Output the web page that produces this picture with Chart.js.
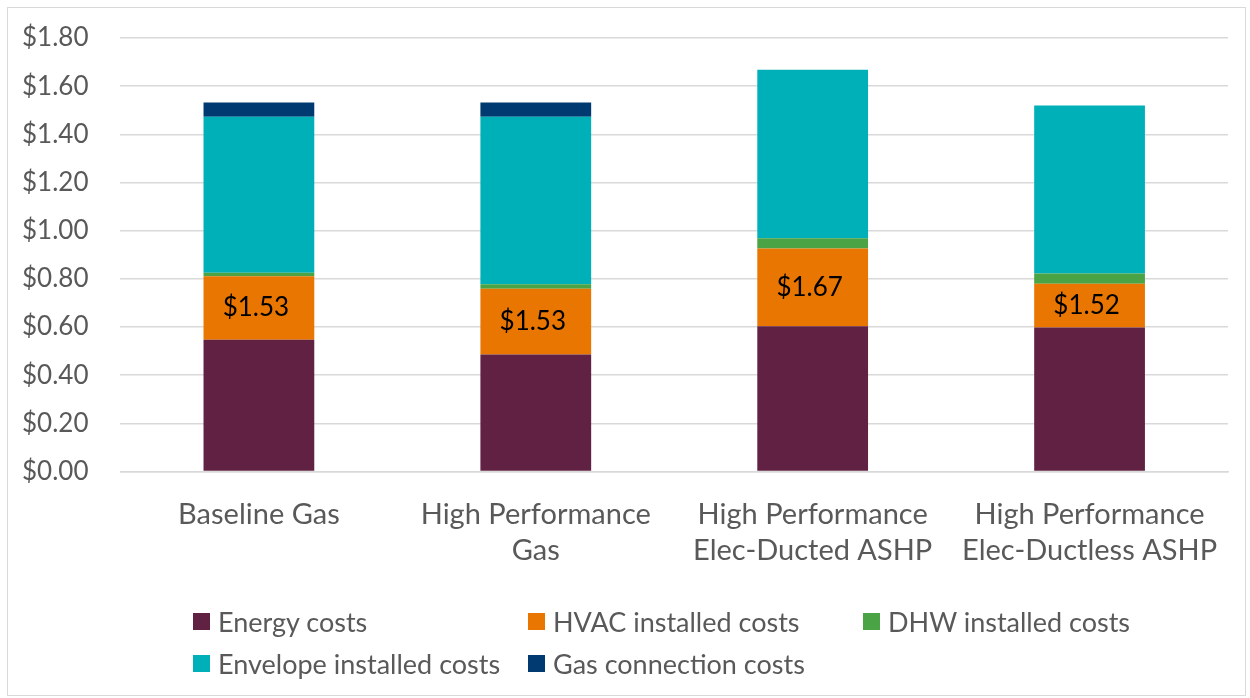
<!DOCTYPE html>
<html>
<head>
<meta charset="utf-8">
<script src="https://cdn.jsdelivr.net/npm/chart.js@4"></script>
<style>
  html, body { margin: 0; padding: 0; background: #fff; }
  #box {
    position: absolute; left: 7px; top: 7px; width: 1239px; height: 689px;
    border: 1px solid #d9d9d9; box-sizing: border-box;
  }
  #chart { position: absolute; left: 0; top: 0; }
  #legend {
    position: absolute; left: 185px; top: 598px;
    display: grid; grid-template-columns: 335px 335px 335px; row-gap: 12px;
    font-family: Lato, sans-serif; font-size: 27px; color: #595959;
  }
  #legend div { display: flex; align-items: center; height: 30px; }
  #legend span.sw { width: 17px; height: 17px; margin-right: 8px; display: inline-block; }
</style>
</head>
<body>
<div id="box">
  <canvas id="chart" width="1237" height="687"></canvas>
  <div id="legend"></div>
</div>
<script>
// categorías (eje x)
const categories = [
  ['Baseline Gas'],
  ['High Performance', 'Gas'],
  ['High Performance', 'Elec-Ducted ASHP'],
  ['High Performance', 'Elec-Ductless ASHP']
];

// series ($)
const energyCosts = [0.547, 0.486, 0.603, 0.598];
const hvacCosts = [0.264, 0.273, 0.323, 0.182];
const dhwCosts = [0.014, 0.018, 0.042, 0.042];
const envelopeCosts = [0.648, 0.696, 0.700, 0.698];
const gasConnectionCosts = [0.059, 0.059, 0, 0];

const seriesNames = ['Energy costs', 'HVAC installed costs', 'DHW installed costs', 'Envelope installed costs', 'Gas connection costs'];
const seriesColors = ['#612142', '#e97600', '#4aa344', '#00b0b9', '#003a70'];
const seriesValues = [energyCosts, hvacCosts, dhwCosts, envelopeCosts, gasConnectionCosts];

const totals = categories.map((_, i) => seriesValues.reduce((s, arr) => s + arr[i], 0));

// etiqueta del total dentro del tramo HVAC
const totalLabels = {
  id: 'totalLabels',
  afterDatasetsDraw(chart) {
    const c = chart.ctx;
    const meta = chart.getDatasetMeta(1);
    c.save();
    c.font = '26px Lato, sans-serif';
    c.fillStyle = '#000';
    c.textAlign = 'center';
    c.textBaseline = 'middle';
    meta.data.forEach((bar, i) => {
      c.fillText('$' + totals[i].toFixed(2), bar.x - 3, (bar.y + bar.base) / 2);
    });
    c.restore();
  }
};

const ctx = document.getElementById('chart').getContext('2d');
const chart = new Chart(ctx, {
  type: 'bar',
  data: {
    labels: categories,
    datasets: seriesNames.map((name, i) => ({
      label: name,
      data: seriesValues[i],
      backgroundColor: seriesColors[i],
      borderWidth: 0,
      categoryPercentage: 1,
      barPercentage: 0.4
    }))
  },
  options: {
    responsive: false,
    animation: false,
    layout: { padding: { top: 30, right: 17, bottom: 109, left: 13 } },
    plugins: {
      legend: { display: false },
      tooltip: { enabled: false }
    },
    scales: {
      x: {
        stacked: true,
        grid: { display: false },
        border: { color: '#d9d9d9', width: 1.5 },
        ticks: {
          color: '#595959',
          font: { family: 'Lato, sans-serif', size: 29, lineHeight: 1.25 },
          padding: 17,
          maxRotation: 0
        }
      },
      y: {
        stacked: true,
        min: 0,
        max: 1.8,
        grid: { color: '#d9d9d9', lineWidth: 1.5, tickLength: 31, tickColor: 'transparent' },
        border: { display: false },
        ticks: {
          stepSize: 0.2,
          color: '#595959',
          font: { family: 'Lato, sans-serif', size: 26 },
          padding: 1,
          callback: v => '$' + v.toFixed(2)
        }
      }
    }
  },
  plugins: [totalLabels]
});

// leyenda
const legend = document.getElementById('legend');
seriesNames.forEach((name, i) => {
  const d = document.createElement('div');
  d.innerHTML = `<span class="sw" style="background:${seriesColors[i]}"></span>${name}`;
  legend.appendChild(d);
});
</script>
</body>
</html>
